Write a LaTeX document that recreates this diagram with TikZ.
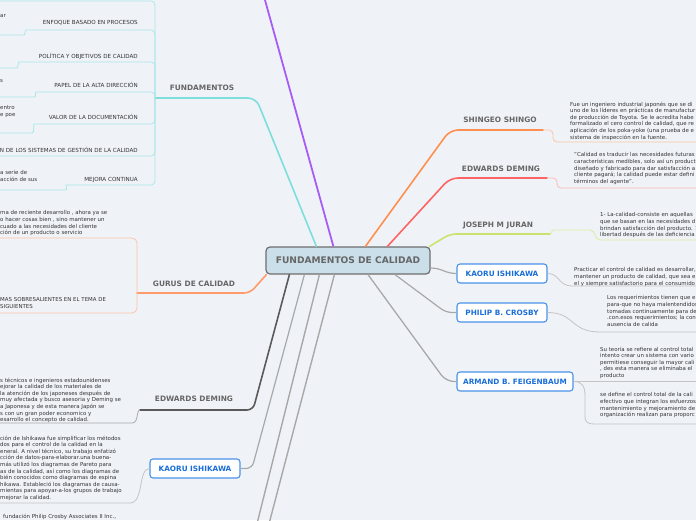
\documentclass[tikz,border=0pt]{standalone}
\usepackage{fontspec}
\setmainfont{DejaVu Sans}
\definecolor{bg}{HTML}{EFF3F8}
\definecolor{txt}{HTML}{333333}
\definecolor{lbltxt}{HTML}{666666}
\definecolor{cfill}{HTML}{CADFE9}
\definecolor{cborder}{HTML}{6E6E6E}
\definecolor{purp}{HTML}{A65CF5}
\definecolor{cyanm}{HTML}{7EDDDD}
\definecolor{cyanl}{HTML}{A9E7E7}
\definecolor{orgm}{HTML}{FF9A6A}
\definecolor{orgl}{HTML}{FFC3A4}
\definecolor{shm}{HTML}{FF8F50}
\definecolor{shl}{HTML}{FDC3A0}
\definecolor{redm}{HTML}{FF6464}
\definecolor{redl}{HTML}{FFB6B6}
\definecolor{grnm}{HTML}{CBE36C}
\definecolor{grnl}{HTML}{DCEDA0}
\definecolor{dgray}{HTML}{5A5A5A}
\definecolor{mgray}{HTML}{A8A8A8}
\definecolor{lgray}{HTML}{C4C4C4}
\definecolor{bborder}{HTML}{4A92E8}
\definecolor{btxt}{HTML}{1A6ED8}
\begin{document}
\begin{tikzpicture}[x=1pt,y=-1pt,
  detail/.style={font=\fontsize{5.45}{6.6}\selectfont, text=txt, inner sep=0pt, align=left, anchor=north west},
  lbl/.style={font=\fontsize{7.4}{8}\selectfont\bfseries, text=lbltxt, inner sep=0pt},
  sublbl/.style={font=\fontsize{5.6}{6}\selectfont, text=txt, inner sep=0pt, anchor=east},
  bluebox/.style={draw=bborder, fill=white, line width=1.1pt, rounded corners=3pt, minimum height=19pt, inner sep=0pt, text=btxt, font=\fontsize{7.3}{8}\selectfont\bfseries},
  mainln/.style={line width=1.6pt, line cap=round},
  subln/.style={line width=0.8pt, rounded corners=4pt},
]
\useasboundingbox (0,0) rectangle (696,520);
\fill[bg] (0,0) rectangle (696,520);
\begin{scope}
\clip (0,0) rectangle (696,520);
% central node
\node[draw=cborder, fill=cfill, line width=1.2pt, rounded corners=4pt, minimum width=164pt, minimum height=27pt, inner sep=0pt, text=lbltxt, font=\fontsize{9.1}{10}\selectfont\bfseries] (c) at (348,260.5) {FUNDAMENTOS DE CALIDAD};

% ---------- labels and boxes
\node[lbl] (fund) at (202,88) {FUNDAMENTOS};
\node[sublbl] (f1) at (138,23) {ENFOQUE BASADO EN PROCESOS};
\node[sublbl] (f2) at (138,56) {POLÍTICA Y OBJETIVOS DE CALIDAD};
\node[sublbl] (f3) at (138,85) {PAPEL DE LA ALTA DIRECCIÓN};
\node[sublbl] (f4) at (138,117) {VALOR DE LA DOCUMENTACIÓN};
\node[sublbl] (f5) at (138,150) {N DE LOS SISTEMAS DE GESTIÓN DE LA CALIDAD};
\node[sublbl] (f6) at (138,180) {MEJORA CONTINUA};
\node[detail] (d1) at (0,14.5) {ar};
\node[detail] (d2) at (0,79) {s};
\node[detail] (d3) at (0,105.5) {entro\\e poe};
\node[detail] (d4) at (0,170.5) {a serie de\\acción de sus};

\node[lbl] (gur) at (194,284) {GURUS DE CALIDAD};
\node[detail] (g1) at (0,210.5) {ma de reciente desarrollo , ahora ya se\\o hacer cosas bien , sino mantener un\\cuado a las necesidades del cliente\\ción de un producto o servicio};
\node[detail] (g2) at (0,297.5) {MAS SOBRESALIENTES EN EL TEMA DE\\SIGUIENTES};

\node[lbl] (edl) at (194,399) {EDWARDS DEMING};
\node[detail] (e1) at (0,377.5) {s técnicos e ingenieros estadounidenses\\ejorar la calidad de los materiales de\\la atención de los japoneses después de\\muy afectada y busco asesoria y Deming se\\a Japonesa y de esta manera Japón se\\s con un gran poder economico y\\esarrollo el concepto de calidad.};

\node[bluebox, minimum width=90pt] (kl) at (195,468.5) {KAORU ISHIKAWA};
\node[detail] (k1) at (0,435.5) {ción de Ishikawa fue simplificar los métodos\\dos para el control de la calidad en la\\eneral.  A nivel técnico, su trabajo enfatizó\\cción de datos-para-elaborar.una buena-\\más utilizó los diagramas de Pareto para\\as de la calidad, así como los diagramas de\\bién conocidos como diagramas de espina\\hikawa.  Estableció los diagramas de causa-\\mientas para apoyar-a-los grupos de trabajo\\mejorar la calidad.};
\node[detail] (pc) at (3,513.5) {fundación Philip Crosby Associates II Inc.,};

\node[lbl] (sh) at (500,120) {SHINGEO SHINGO};
\node[detail] (s1) at (570,101.5) {Fue un ingeniero industrial japonés que se di\\uno de los líderes en prácticas de manufactur\\de producción de Toyota.  Se le acredita habe\\formalizado el cero control de calidad, que re\\aplicación de los poka-yoke (una prueba de e\\sistema de inspección en la fuente.};

\node[lbl] (edr) at (501,169) {EDWARDS DEMING};
\node[detail] (r1) at (574,152.5) {"Calidad es traducir las necesidades futuras\\características medibles, solo así un product\\diseñado y fabricado para dar satisfacción a\\cliente pagará; la calidad puede estar defini\\términos del agente".};

\node[lbl] (jj) at (498,225) {JOSEPH M JURAN};
\node[detail] (j1) at (600,212.5) {1- La-calidad-consiste en aquellas\\que se basan en las necesidades d\\brindan satisfacción del producto. 1\\libertad después de las deficiencia};

\node[bluebox, minimum width=90pt] (kr) at (502,273.5) {KAORU ISHIKAWA};
\node[detail] (kt) at (574,267.5) {Practicar el control de calidad es desarrollar,\\mantener un producto de calidad, que sea e\\el y siempre satisfactorio para el consumido};

\node[bluebox, minimum width=90pt] (pb) at (502,312.5) {PHILIP B. CROSBY};
\node[detail] (pt) at (607,295.5) {Los requerimientos tienen que e\\para-que no haya malentendidos\\tomadas continuamente para de\\.con.esos requerimientos; la con\\ausencia de calida};

\node[bluebox, minimum width=116pt] (ab) at (515,381.5) {ARMAND B. FEIGENBAUM};
\node[detail] (a1) at (600,346.5) {Su teoría se refiere al control total\\intento crear un sistema con vario\\permitiese conseguir la mayor cali\\, des esta manera se eliminaba el\\producto};
\node[detail] (a2) at (600,392.5) {se define el control total de la cali\\efectivo que integran los esfuerzos\\mantenimiento y mejoramiento de\\organización realizan para proporc};

% ---------- connectors
\coordinate (pe) at (263.6,-5);
\draw[purp, line width=1.8pt] ([xshift=68pt]c.north west) -- (pe);

\coordinate (fj) at (155,98);
\draw[cyanm, mainln, rounded corners=8pt] ([xshift=51pt]c.north west) -- (256,98) -- (fj);
\draw[cyanl, subln] (fj) -- (155,1) -- (-5,1);
\draw[cyanl, subln] (fj) -- (155,30) -- (30,30) .. controls (25,30) and (25,35) .. (20,35) -- (-5,35);
\draw[cyanl, subln] (fj) -- (155,62) -- (23,62) .. controls (18,62) and (18,68) .. (13,68) -- (-5,68);
\draw[cyanl, subln] (fj) -- (155,92) -- (40,92) .. controls (35,92) and (36,97) .. (31,97) -- (-5,97);
\draw[cyanl, subln] (fj) -- (155,124) -- (38,124) .. controls (33,124) and (35,133) .. (28,133) -- (-5,133);
\draw[cyanl, subln] (fj) -- (155,156) -- (-5,156);
\draw[cyanl, subln] (fj) -- (155,185) -- (70,185) .. controls (66,185) and (67,190) .. (62,190) -- (-5,190);

\draw[orgm, mainln, rounded corners=6pt] ([xshift=1pt]c.south west) -- (250,293) -- (137,293);
\draw[orgl, line width=0.8pt, rounded corners=5pt] (-5,238) -- (137,238) -- (137,313) -- (-5,313);

\draw[dgray, mainln, rounded corners=6pt] ([xshift=24pt]c.south west) -- (253,410) -- (140,410);
\draw[mgray, line width=0.8pt] (140,410) .. controls (136,410) and (139,423) .. (132,423) -- (-5,423);

\draw[mgray, line width=1.2pt, rounded corners=6pt] ([xshift=39pt]c.south west) -- (252,468.5) -- (kl.east);
\draw[lgray, line width=0.8pt] (kl.west) .. controls (138,468.5) and (144,503) .. (130,503) -- (-5,503);

\coordinate (ge1) at (256.7,525);
\coordinate (ge2) at (268.7,525);
\draw[mgray, line width=1.4pt] ([xshift=54pt]c.south west) -- (ge1);
\draw[mgray, line width=1.4pt] ([xshift=69pt]c.south west) -- (ge2);

\draw[shm, mainln, rounded corners=8pt] ([xshift=100pt]c.north west) -- (450,130) -- (543,130);
\draw[shl, line width=0.8pt, rounded corners=4pt] (543,130) -- (553,130) -- (553,142) -- (701,142);

\draw[redm, mainln, rounded corners=8pt] ([xshift=122pt]c.north west) -- (450,178) -- (547,178);
\draw[redl, line width=0.8pt, rounded corners=4pt] (547,178) -- (557,178) -- (557,188) -- (701,188);

\draw[grnm, mainln, rounded corners=6pt] ([xshift=-1pt]c.north east) -- (450,234) -- (550,234);
\draw[grnl, line width=0.8pt] (550,234) .. controls (552,234) and (551,230) .. (554,230) -- (590,230) .. controls (596,230) and (594,240) .. (600,240) -- (701,240);

\draw[mgray, line width=1.2pt] ([yshift=-7.5pt]c.east) .. controls (442,268) and (445,273.5) .. (kr.west);
\draw[lgray, line width=0.8pt] (kr.east) .. controls (560,273.5) and (558,286) .. (572,286) -- (701,286);

\draw[mgray, line width=1.2pt, rounded corners=6pt] ([xshift=47pt]c.south) -- (446,312.5) -- (pb.west);
\draw[lgray, line width=0.8pt] (pb.east) .. controls (575,312.5) and (570,332) .. (600,332) -- (701,332);

\draw[mgray, line width=1.3pt, rounded corners=8pt] ([xshift=20pt]c.south) -- (446,381.5) -- (ab.west);
\draw[lgray, line width=0.8pt] (ab.east) -- (701,381.5);
\draw[lgray, line width=0.8pt] (ab.east) .. controls (582,381.5) and (585,386) .. (585,396) -- (585,417) .. controls (585,422) and (588,424) .. (594,424) -- (701,424);
\end{scope}
\end{tikzpicture}
\end{document}
